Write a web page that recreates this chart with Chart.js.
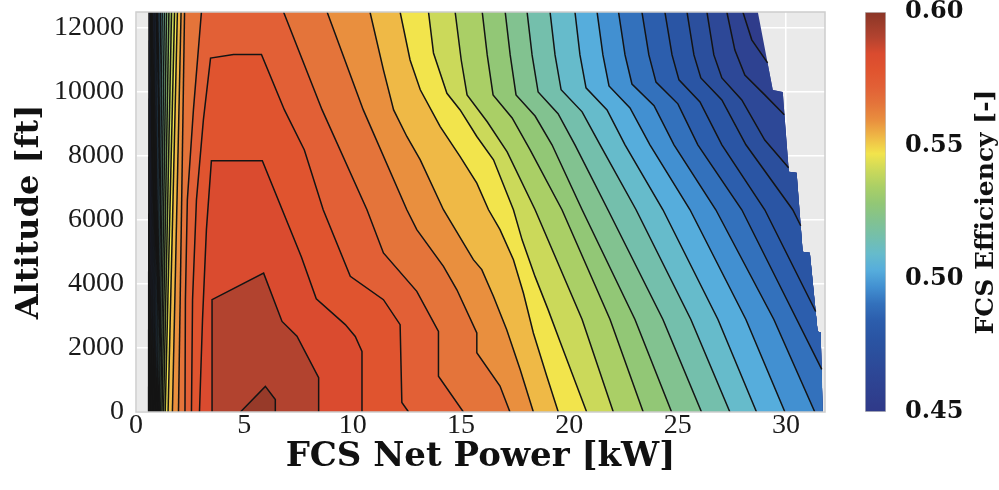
<!DOCTYPE html>
<html>
<head>
<meta charset="utf-8">
<script src="https://cdn.jsdelivr.net/npm/chart.js@4.4.1/dist/chart.umd.min.js"></script>
<style>
  html, body { margin: 0; padding: 0; background: #fff; }
  #wrap { position: relative; width: 999px; height: 490px; }
  #mainBox { position: absolute; left: 0; top: 0; width: 999px; height: 490px; }
  #barBox { position: absolute; left: 845px; top: 0; width: 154px; height: 490px; }
</style>
</head>
<body>
<div id="wrap">
  <div id="mainBox"><canvas id="mainCanvas"></canvas></div>
  <div id="barBox"><canvas id="barCanvas"></canvas></div>
</div>
<script>
// contour levels of FCS efficiency, highest first
const levels = [0.59375, 0.5875, 0.58125, 0.575, 0.56875, 0.5625, 0.55625, 0.55,
  0.54375, 0.5375, 0.53125, 0.525, 0.51875, 0.5125, 0.50625, 0.5,
  0.49375, 0.4875, 0.48125, 0.475, 0.46875, 0.4625, 0.45625, 0.45];

// fill colour of the band just above each level
const bandColors = ['#973a29', '#b2432f', '#da4b2f', '#e0542f', '#e26036', '#e4743a', '#e98f3e', '#efb946',
  '#f2e44c', '#cbd95a', '#aacf66', '#92c776', '#82c290', '#74bfac', '#66bbcb', '#56addc',
  '#4290d1', '#3371bc', '#2c5ead', '#2a55a4', '#2b4f9d', '#2d4897', '#2e4291', '#2f3c8b'];

// [power kW, altitude ft] – closed contours touching the ground (levels 1-4)
const domeLines = [
  [[4.82, 0], [5.97, 800], [6.43, 390], [6.43, 0]],
  [[3.51, 0], [3.51, 3510], [5.89, 4340], [6.74, 2830], [7.43, 2370], [8.43, 1070], [8.43, 0]],
  [[2.93, 0], [3.07, 2890], [3.25, 5700], [3.48, 7850], [5.83, 7850], [7.63, 4850], [8.32, 3540],
   [9.66, 2730], [10.12, 2360], [10.43, 1890], [10.43, 0]],
  [[2.56, 0], [2.61, 3510], [2.79, 6630], [3.11, 9130], [3.44, 11060], [4.5, 11170], [5.79, 11170],
   [6.85, 9440], [7.77, 8190], [8.64, 6320], [9.89, 4240], [11.42, 3510], [12.19, 2730], [12.27, 300], [12.58, 0]]
];

// low-power side of levels 5-24, top to bottom
const leftLines = [
  [[3.02, 12500], [2.65, 9440], [2.37, 6630], [2.28, 3510], [2.26, 0]],
  [[2.24, 12500], [1.96, 0]], [[2.08, 12500], [1.68, 0]], [[1.91, 12500], [1.48, 0]],
  [[1.78, 12500], [1.35, 0]], [[1.64, 12500], [1.27, 0]], [[1.52, 12500], [1.2, 0]],
  [[1.41, 12500], [1.14, 0]], [[1.31, 12500], [1.08, 0]], [[1.21, 12500], [1.04, 0]],
  [[1.13, 12500], [0.99, 0]], [[1.06, 12500], [0.95, 0]], [[0.99, 12500], [0.9, 0]],
  [[0.94, 12500], [0.85, 0]], [[0.88, 12500], [0.81, 0]], [[0.83, 12500], [0.76, 0]],
  [[0.77, 12500], [0.72, 0]], [[0.72, 12500], [0.67, 0]], [[0.66, 12500], [0.62, 0]],
  [[0.6, 12500], [0.58, 0]]
];

// high-power side of levels 5-23, top to bottom (ending on the ground or on the data edge)
const rightLines = [
  [[6.81, 12500], [8.59, 9440], [10.66, 6320], [11.42, 4970], [12.96, 3770], [13.96, 2520], [13.96, 1120], [15.11, 0]],
  [[8.82, 12500], [10.49, 9440], [12.5, 6320], [12.96, 5700], [14.19, 4550], [14.81, 3820], [15.73, 2470],
   [15.73, 1850], [16.8, 810], [17.26, 0]],
  [[10.8, 12500], [11.42, 10690], [11.89, 9440], [12.5, 8610], [13.12, 7880], [14.19, 6320], [15.57, 4760],
   [15.96, 4450], [16.5, 3610], [17.11, 2570], [17.73, 1330], [18.34, 0]],
  [[12.19, 12500], [12.65, 11000], [13.12, 10070], [14.04, 8920], [14.96, 7980], [15.73, 7150], [16.27, 6320],
   [16.8, 5700], [17.42, 4760], [17.88, 3720], [18.34, 2470], [18.96, 1120], [19.49, 0]],
  [[13.5, 12500], [13.73, 11220], [14.35, 9960], [14.96, 9440], [15.73, 8610], [16.5, 7880], [17.42, 6320],
   [17.82, 5380], [18.42, 4230], [19.02, 3200], [19.57, 2200], [20.8, 0]],
  [[14.73, 12500], [15.01, 11000], [15.28, 9910], [16.21, 9070], [17.13, 8130], [18.42, 6320], [20.59, 2890], [22.03, 0]],
  [[15.98, 12500], [16.21, 11160], [16.48, 9910], [17.36, 9190], [18.19, 8190], [19.66, 6320], [21.88, 2890], [23.41, 0]],
  [[17.04, 12500], [17.27, 11160], [17.54, 9910], [18.42, 9250], [19.2, 8350], [20.59, 6320], [23.03, 2890], [24.72, 0]],
  [[18.05, 12500], [18.28, 11160], [18.56, 10000], [19.48, 9320], [20.26, 8350], [21.78, 6320], [24.32, 2890], [26.1, 0]],
  [[19.11, 12500], [19.34, 11160], [19.62, 10070], [20.59, 9380], [21.42, 8350], [23.08, 6320], [25.61, 2890], [27.41, 0]],
  [[20.26, 12500], [20.49, 11160], [20.77, 10130], [21.74, 9440], [22.57, 8350], [24.32, 6320], [26.86, 2890], [28.64, 0]],
  [[21.28, 12500], [21.55, 11160], [21.83, 10190], [22.8, 9500], [23.72, 8350], [25.57, 6320], [28.15, 2890], [29.95, 0]],
  [[22.27, 12500], [22.57, 11160], [22.89, 10250], [23.91, 9570], [24.83, 8350], [26.76, 6320], [29.44, 2890], [31.33, 0]],
  [[23.35, 12500], [23.67, 11160], [24.0, 10310], [25.01, 9630], [25.93, 8350], [27.96, 6320], [29.81, 3820], [31.65, 1330]],
  [[24.41, 12500], [24.74, 11160], [25.06, 10380], [26.03, 9690], [27.04, 8350], [29.02, 6320], [31.37, 3140]],
  [[25.43, 12500], [25.75, 11160], [26.07, 10440], [27.04, 9750], [28.15, 8350], [30.31, 6320], [30.68, 5820]],
  [[26.35, 12500], [26.67, 11160], [27.04, 10440], [27.96, 9750], [29.02, 8500], [30.12, 7630]],
  [[27.27, 12500], [27.64, 11310], [28.1, 10530], [29.02, 9910], [29.92, 9290]],
  [[28.01, 12500], [28.42, 11630], [29.15, 10910]]
];

// maximum net power reached at each altitude (right edge of the data)
const dataEdge = [[28.7, 12500], [29.39, 10065], [29.85, 10003], [30.13, 7506], [30.49, 7475],
  [30.77, 5009], [31.1, 4978], [31.46, 2512], [31.6, 2481], [31.69, 0]];

const xTicks = [0, 5, 10, 15, 20, 25, 30];
const yTicks = [0, 2000, 4000, 6000, 8000, 10000, 12000];
const cbTicks = [0.45, 0.50, 0.55, 0.60];

const toPts = arr => arr.map(p => ({ x: p[0], y: p[1] }));

const datasets = [];

// contour lines on top
domeLines.concat(leftLines, rightLines).forEach(line => {
  datasets.push({
    data: toPts(line),
    borderColor: '#141414',
    borderWidth: 1.5,
    fill: false,
    pointRadius: 0,
    order: 0
  });
});

// filled regions (efficiency >= level), lowest level underneath
levels.forEach((lev, k) => {
  let poly;
  if (k < domeLines.length) {
    poly = domeLines[k];
  } else {
    const left = leftLines[k - domeLines.length];
    const right = rightLines[k - domeLines.length];
    if (right) {
      const endFt = right[right.length - 1][1];
      const edgeBelow = dataEdge.filter(p => p[1] < endFt).reverse();
      poly = left.concat(edgeBelow, right.slice().reverse());
    } else {
      poly = left.concat(dataEdge.slice().reverse());
    }
  }
  datasets.push({
    data: toPts(poly),
    fill: 'shape',
    backgroundColor: bandColors[k],
    borderColor: bandColors[k],
    borderWidth: 0,
    borderDash: [1, 0],
    pointRadius: 0,
    order: 100 + k
  });
});

const plotFrame = {
  id: 'plotFrame',
  beforeDraw(chart) {
    const { ctx, chartArea: a } = chart;
    ctx.save();
    ctx.fillStyle = '#eaeaea';
    ctx.fillRect(a.left, a.top, a.right - a.left, a.bottom - a.top);
    ctx.restore();
  },
  afterDatasetsDraw(chart) {
    const { ctx, chartArea: a } = chart;
    ctx.save();
    ctx.strokeStyle = '#cdcdcd';
    ctx.lineWidth = 1.5;
    ctx.strokeRect(a.left, a.top, a.right - a.left, a.bottom - a.top);
    ctx.restore();
  }
};

Chart.defaults.font.family = 'Liberation Serif';
Chart.defaults.color = '#1a1a1a';

new Chart(document.getElementById('mainCanvas'), {
  type: 'line',
  data: { datasets: datasets },
  options: {
    responsive: true,
    maintainAspectRatio: false,
    animation: false,
    events: [],
    layout: { padding: { top: 12, right: 174, left: 0, bottom: 0 } },
    plugins: { legend: { display: false }, tooltip: { enabled: false } },
    scales: {
      x: {
        type: 'linear', min: 0, max: 31.8,
        afterBuildTicks: s => { s.ticks = xTicks.map(v => ({ value: v })); },
        afterFit: s => { s.height = 78; s.paddingLeft = 0; s.paddingRight = 0; },
        grid: { color: '#ffffff', lineWidth: 1.5, drawTicks: false },
        border: { display: false },
        ticks: { padding: -3, maxRotation: 0, autoSkip: false, font: { size: 28 }, callback: v => String(v) },
        title: {
          display: true, text: 'FCS Net Power [kW]', color: '#111',
          font: { family: 'DejaVu Serif', weight: 'bold', size: 34 },
          padding: { top: 0, bottom: 12 }
        }
      },
      y: {
        type: 'linear', min: 0, max: 12500,
        afterBuildTicks: s => { s.ticks = yTicks.map(v => ({ value: v })); },
        afterFit: s => { s.width = 136; s.paddingTop = 0; s.paddingBottom = 0; },
        grid: { color: '#ffffff', lineWidth: 1.5, drawTicks: false },
        border: { display: false },
        ticks: { padding: 12, autoSkip: false, font: { size: 28 }, callback: v => String(v) },
        title: {
          display: true, text: 'Altitude [ft]', color: '#111',
          font: { family: 'DejaVu Serif', weight: 'bold', size: 32 },
          padding: { top: 10, bottom: 0 }
        }
      }
    }
  },
  plugins: [plotFrame]
});

// colour bar
function barGradient(chart) {
  const area = chart.chartArea;
  if (!area) return bandColors[12];
  const lo = cbTicks[0], hi = cbTicks[cbTicks.length - 1];
  const g = chart.ctx.createLinearGradient(0, area.bottom, 0, area.top);
  g.addColorStop(0, '#2f3989');
  for (let k = levels.length - 1; k >= 0; k--) {
    const upper = k === 0 ? hi : levels[k - 1];
    const mid = (levels[k] + upper) / 2;
    g.addColorStop((mid - lo) / (hi - lo), bandColors[k]);
  }
  g.addColorStop(1, '#8a3527');
  return g;
}

const barTitle = {
  id: 'barTitle',
  afterDraw(chart) {
    const { ctx, chartArea: a } = chart;
    ctx.save();
    ctx.translate(chart.width - 13, (a.top + a.bottom) / 2);
    ctx.rotate(-Math.PI / 2);
    ctx.textAlign = 'center';
    ctx.textBaseline = 'middle';
    ctx.fillStyle = '#111';
    ctx.font = 'bold 25px "DejaVu Serif"';
    ctx.fillText('FCS Efficiency [-]', 0, 0);
    ctx.restore();
  }
};

new Chart(document.getElementById('barCanvas'), {
  type: 'bar',
  data: {
    labels: [''],
    datasets: [{
      data: [[cbTicks[0], cbTicks[cbTicks.length - 1]]],
      backgroundColor: ctx => barGradient(ctx.chart),
      borderColor: '#c4c4c4',
      borderWidth: 1,
      borderSkipped: false,
      barPercentage: 1,
      categoryPercentage: 1
    }]
  },
  options: {
    responsive: true,
    maintainAspectRatio: false,
    animation: false,
    events: [],
    layout: { padding: { left: 20, top: 12, bottom: 78, right: 0 } },
    plugins: { legend: { display: false }, tooltip: { enabled: false } },
    scales: {
      x: { display: false },
      y: {
        position: 'right', min: 0.45, max: 0.60,
        afterBuildTicks: s => { s.ticks = cbTicks.map(v => ({ value: v })); },
        afterFit: s => { s.width = 113; s.paddingTop = 0; s.paddingBottom = 0; },
        grid: { display: false },
        border: { display: false },
        ticks: {
          padding: 11, color: '#111',
          font: { family: 'DejaVu Serif', weight: 'bold', size: 24 },
          callback: v => v.toFixed(2)
        }
      }
    }
  },
  plugins: [barTitle]
});
</script>
</body>
</html>
